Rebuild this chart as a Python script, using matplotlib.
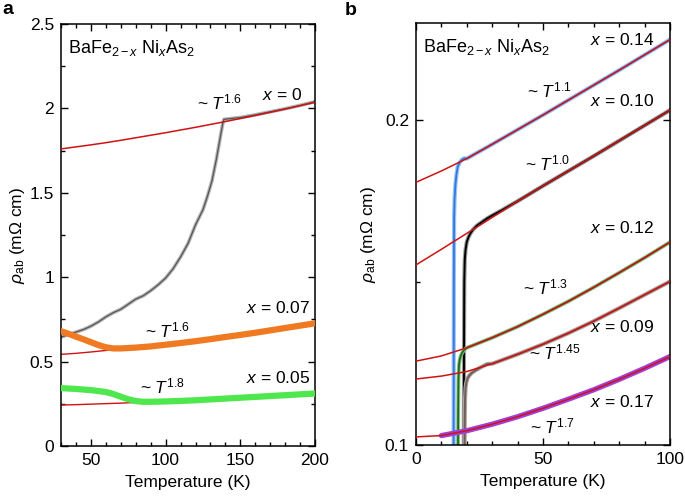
import numpy as np
import matplotlib
matplotlib.use("Agg")
import matplotlib.pyplot as plt
from matplotlib.ticker import MultipleLocator, FormatStrFormatter, FuncFormatter

plt.rcParams['font.family'] = ['Liberation Sans', 'DejaVu Sans']
plt.rcParams['mathtext.fontset'] = 'custom'
plt.rcParams['mathtext.rm'] = 'Liberation Sans'
plt.rcParams['mathtext.it'] = 'Liberation Sans:italic'
plt.rcParams['mathtext.bf'] = 'Liberation Sans:bold'

# ---------------- panel a data (T in K, rho in mOhm cm) ----------------
fit_a_T = [30, 40, 50, 60, 70, 80, 90, 100, 110, 120, 130, 140, 150, 160, 170, 180, 190, 200]
fit_x0 = [1.760, 1.772, 1.784, 1.797, 1.811, 1.826, 1.841, 1.856, 1.872, 1.888,
          1.905, 1.922, 1.940, 1.958, 1.977, 1.996, 2.016, 2.036]

x0_T = [30, 35, 40, 45, 50, 55, 60, 65, 70, 75, 80, 85, 90, 95, 100, 105, 110, 115,
        120, 125, 128, 131, 134, 136, 138, 139, 142, 145, 150, 160, 170, 180, 190, 200]
x0_rho = [0.645, 0.660, 0.675, 0.690, 0.710, 0.735, 0.765, 0.790, 0.810, 0.840, 0.870,
          0.890, 0.920, 0.955, 0.995, 1.050, 1.120, 1.200, 1.310, 1.400, 1.480, 1.570,
          1.700, 1.800, 1.900, 1.935, 1.938, 1.941, 1.946, 1.962, 1.980, 1.998, 2.018, 2.040]

fit_x007 = [0.543, 0.549, 0.557, 0.566, 0.576, 0.583, 0.590, 0.600, 0.610, 0.621,
            0.633, 0.646, 0.658, 0.671, 0.685, 0.699, 0.713, 0.727]
x007_T = [30, 35, 40, 45, 50, 55, 60, 65, 70, 80, 90, 100, 110, 120, 130, 140, 150,
          160, 170, 180, 190, 200]
x007_rho = [0.680, 0.665, 0.648, 0.632, 0.615, 0.598, 0.585, 0.578, 0.578, 0.583, 0.590,
            0.600, 0.610, 0.621, 0.633, 0.646, 0.658, 0.671, 0.685, 0.699, 0.713, 0.727]

fit_x005 = [0.243, 0.245, 0.248, 0.251, 0.254, 0.258, 0.262, 0.264, 0.267, 0.271,
            0.276, 0.281, 0.286, 0.291, 0.296, 0.301, 0.306, 0.311]
x005_T = [30, 40, 50, 60, 65, 70, 75, 80, 85, 90, 100, 110, 120, 130, 140, 150, 160,
          170, 180, 190, 200]
x005_rho = [0.343, 0.338, 0.331, 0.320, 0.308, 0.292, 0.277, 0.266, 0.262, 0.262, 0.264,
            0.267, 0.271, 0.276, 0.281, 0.286, 0.291, 0.296, 0.301, 0.306, 0.311]

# ---------------- panel b data ----------------
fit_b_T = [0, 10, 20, 30, 40, 50, 60, 70, 80, 90, 100]
fit_x014 = [0.1808, 0.1843, 0.1881, 0.1925, 0.1970, 0.2015, 0.2061, 0.2107, 0.2153, 0.2200, 0.2247]
fit_x010 = [0.1554, 0.1602, 0.1651, 0.1700, 0.1750, 0.1797, 0.1843, 0.1889, 0.1936, 0.1983, 0.2030]
fit_x012 = [0.1258, 0.1274, 0.1299, 0.1330, 0.1364, 0.1402, 0.1442, 0.1485, 0.1530, 0.1576, 0.1624]
fit_x009 = [0.1203, 0.1212, 0.1226, 0.1250, 0.1279, 0.1310, 0.1344, 0.1381, 0.1421, 0.1462, 0.1503]
fit_x017 = [0.1025, 0.1029, 0.1044, 0.1064, 0.1087, 0.1113, 0.1141, 0.1170, 0.1202, 0.1236, 0.1272]

# superconducting transitions (low-T part of each measured curve)
x014_T_sc = [14.8, 14.9, 15.0, 15.2, 15.5, 15.9, 16.4, 17.1, 18.0, 19.0]
x014_rho_sc = [0.090, 0.150, 0.170, 0.176, 0.180, 0.183, 0.1855, 0.1868, 0.1877, 0.1882]
x010_T_sc = [18.8, 18.9, 19.0, 19.2, 19.5, 20.0, 20.7, 21.5, 22.5, 24.0, 26.0, 28.0, 30.0, 34.0]
x010_rho_sc = [0.090, 0.130, 0.150, 0.157, 0.160, 0.1625, 0.1640, 0.1652, 0.1663, 0.1675,
               0.1686, 0.1697, 0.1706, 0.1723]
x012_T_sc = [16.5, 16.6, 16.7, 16.9, 17.2, 17.6, 18.2, 19.0]
x012_rho_sc = [0.090, 0.110, 0.120, 0.1245, 0.1262, 0.1274, 0.1284, 0.1293]
x009_T_sc = [19.1, 19.2, 19.3, 19.5, 19.8, 20.3, 21.0, 22.0, 23.5, 25.5, 28.0]
x009_rho_sc = [0.090, 0.108, 0.114, 0.1175, 0.1192, 0.1205, 0.1214, 0.1222, 0.1230,
               0.1239, 0.1249]
x017_T_start = 10


def measured(T_sc, rho_sc, fit_rho):
    T = list(T_sc) + [t for t in fit_b_T if t > T_sc[-1]]
    rho = list(rho_sc) + [r for t, r in zip(fit_b_T, fit_rho) if t > T_sc[-1]]
    return T, rho


red = '#d01212'

fig = plt.figure(figsize=(6.85, 4.98), dpi=100)
ax1 = fig.add_axes([0.0891, 0.1044, 0.3708, 0.8474])
ax2 = fig.add_axes([0.6073, 0.1064, 0.3708, 0.8474])

# panel a
ax1.plot(x0_T, x0_rho, color='#b4b4b4', lw=2.6, solid_capstyle='round', zorder=2)
ax1.plot(x0_T, x0_rho, color='#555555', lw=0.9, zorder=2)
ax1.plot(fit_a_T, fit_x0, color=red, lw=1.1, zorder=3)
ax1.plot(fit_a_T, fit_x007, color=red, lw=1.0, zorder=2)
ax1.plot(x007_T, x007_rho, color='#f07a22', lw=4.5, solid_capstyle='round', zorder=4)
ax1.plot(fit_a_T, fit_x005, color=red, lw=1.0, zorder=2)
ax1.plot(x005_T, x005_rho, color='#4ee84e', lw=4.5, solid_capstyle='round', zorder=4)

ax1.set_xlim(30, 200)
ax1.set_ylim(0, 2.5)
ax1.xaxis.set_major_locator(MultipleLocator(50))
ax1.xaxis.set_minor_locator(MultipleLocator(10))
ax1.yaxis.set_major_locator(MultipleLocator(0.5))
ax1.yaxis.set_minor_locator(MultipleLocator(0.25))
ax1.yaxis.set_major_formatter(FuncFormatter(lambda v, p: '%g' % v))

# panel b
T, r = measured(x014_T_sc, x014_rho_sc, fit_x014)
ax2.plot(T, r, color='#9cc0f2', lw=3.0, zorder=2)
ax2.plot(T, r, color='#2f7be0', lw=1.3, zorder=2)
T, r = measured(x010_T_sc, x010_rho_sc, fit_x010)
ax2.plot(T, r, color='#9a9a9a', lw=3.0, zorder=2)
ax2.plot(T, r, color='black', lw=1.4, zorder=2)
T, r = measured(x012_T_sc, x012_rho_sc, fit_x012)
ax2.plot(T, r, color='#8ec48e', lw=2.8, zorder=2)
ax2.plot(T, r, color='#1c6b1c', lw=1.3, zorder=2)
T, r = measured(x009_T_sc, x009_rho_sc, fit_x009)
ax2.plot(T, r, color='#b0a4a0', lw=3.0, zorder=2)
ax2.plot(T, r, color='#6e5e5a', lw=1.4, zorder=2)
T17 = [t for t in fit_b_T if t >= x017_T_start]
r17 = [v for t, v in zip(fit_b_T, fit_x017) if t >= x017_T_start]
ax2.plot(T17, r17, color='#a040d8', lw=3.8, solid_capstyle='round', zorder=2)

for f in [fit_x014, fit_x010, fit_x012, fit_x009, fit_x017]:
    ax2.plot(fit_b_T, f, color=red, lw=1.1, zorder=3)

ax2.set_xlim(0, 100)
ax2.set_ylim(0.1, 0.2298)
ax2.xaxis.set_major_locator(MultipleLocator(50))
ax2.xaxis.set_minor_locator(MultipleLocator(10))
ax2.yaxis.set_major_locator(MultipleLocator(0.1))
ax2.yaxis.set_minor_locator(MultipleLocator(0.05))
ax2.yaxis.set_major_formatter(FormatStrFormatter('%.1f'))

for ax in (ax1, ax2):
    ax.tick_params(which='both', direction='in', top=True, right=True, labelsize=12.5,
                   pad=5, width=1.0)
    ax.tick_params(which='major', length=5)
    ax.tick_params(which='minor', length=3)
    for s in ax.spines.values():
        s.set_linewidth(1.1)
    ax.set_xlabel('Temperature (K)', fontsize=12.5, labelpad=5)
    ax.set_ylabel(r'$\rho_{\mathrm{ab}}$ (m$\Omega$ cm)', fontsize=12.5)
    ax.text(0.028, 0.943, r'BaFe$_{2-x}$ Ni$_x$As$_2$', transform=ax.transAxes,
            fontsize=13, ha='left', va='center')

ax1.yaxis.set_label_coords(-0.135, 0.5)
ax2.yaxis.set_label_coords(-0.15, 0.5)

lab = dict(fontsize=12.5, ha='center', va='center')
ax1.text(0.626, 0.815, r'~ $T^{1.6}$', transform=ax1.transAxes, **lab)
ax1.text(0.870, 0.832, r'$x$ = 0', transform=ax1.transAxes, **lab)
ax1.text(0.854, 0.327, r'$x$ = 0.07', transform=ax1.transAxes, **lab)
ax1.text(0.421, 0.275, r'~ $T^{1.6}$', transform=ax1.transAxes, **lab)
ax1.text(0.854, 0.161, r'$x$ = 0.05', transform=ax1.transAxes, **lab)
ax1.text(0.400, 0.140, r'~ $T^{1.8}$', transform=ax1.transAxes, **lab)

ax2.text(0.811, 0.960, r'$x$ = 0.14', transform=ax2.transAxes, **lab)
ax2.text(0.524, 0.841, r'~ $T^{1.1}$', transform=ax2.transAxes, **lab)
ax2.text(0.811, 0.815, r'$x$ = 0.10', transform=ax2.transAxes, **lab)
ax2.text(0.520, 0.668, r'~ $T^{1.0}$', transform=ax2.transAxes, **lab)
ax2.text(0.811, 0.514, r'$x$ = 0.12', transform=ax2.transAxes, **lab)
ax2.text(0.512, 0.374, r'~ $T^{1.3}$', transform=ax2.transAxes, **lab)
ax2.text(0.811, 0.280, r'$x$ = 0.09', transform=ax2.transAxes, **lab)
ax2.text(0.547, 0.220, r'~ $T^{1.45}$', transform=ax2.transAxes, **lab)
ax2.text(0.811, 0.102, r'$x$ = 0.17', transform=ax2.transAxes, **lab)
ax2.text(0.539, 0.043, r'~ $T^{1.7}$', transform=ax2.transAxes, **lab)

fig.text(0.004, 0.997, 'a', fontsize=14, fontweight='bold', ha='left', va='top')
fig.text(0.503, 0.995, 'b', fontsize=14, fontweight='bold', ha='left', va='top')

fig.savefig('out.png', dpi=100)
